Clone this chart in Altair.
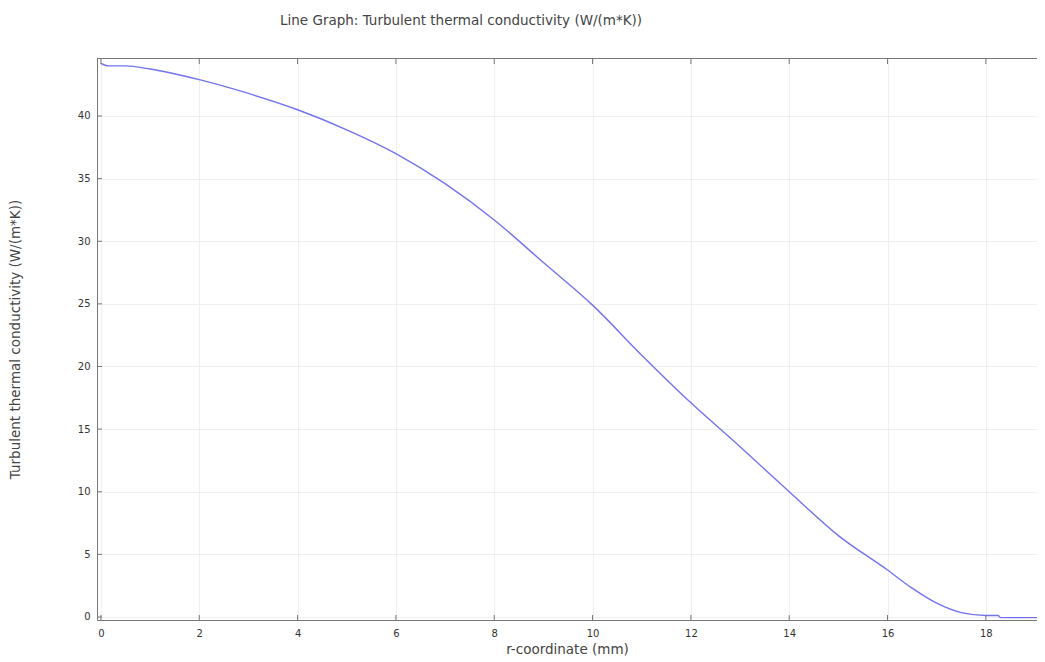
import altair as alt
import pandas as pd

r_mm = [0, 0.15, 0.5, 1, 2, 3, 4, 5, 6, 7, 8, 9, 10, 11, 12, 13, 14, 15, 16, 16.5, 17, 17.5, 18, 18.25, 18.3, 19.2]
k_turb = [44.2, 44.0, 44.0, 43.75, 42.9, 41.8, 40.5, 38.9, 37.0, 34.6, 31.7, 28.3, 24.9, 20.9, 17.1, 13.6,
          10.0, 6.5, 3.75, 2.3, 1.1, 0.35, 0.12, 0.12, -0.05, -0.05]
x_ticks = [0, 2, 4, 6, 8, 10, 12, 14, 16, 18]
y_ticks = [0, 5, 10, 15, 20, 25, 30, 35, 40]

W, H = 940, 562
df = pd.DataFrame({"r": r_mm, "k": k_turb})
xt = pd.DataFrame({"t": x_ticks})
yt = pd.DataFrame({"t": y_ticks})

FONT = "DejaVu Sans"
AX = "#777777"
TFS = 13.5
xs = alt.Scale(domain=[-0.08, 19.04], nice=False, zero=False)
ys = alt.Scale(domain=[-0.24, 44.63], nice=False, zero=False)

line = alt.Chart(df).mark_line(color="#7373f0", strokeWidth=1.4, clip=True,
                               interpolate="monotone").encode(
    x=alt.X("r:Q", scale=xs, title="r-coordinate (mm)",
            axis=alt.Axis(values=x_ticks, grid=True, gridColor="#efefef", ticks=False,
                          domainColor=AX, labelPadding=8, titlePadding=4,
                          labelFontSize=10, titleFontSize=TFS, labelColor="#333333",
                          titleColor="#444444", labelFont=FONT, titleFont=FONT,
                          titleFontWeight="normal")),
    y=alt.Y("k:Q", scale=ys, title="Turbulent thermal conductivity (W/(m*K))",
            axis=alt.Axis(values=y_ticks, grid=True, gridColor="#efefef", ticks=False,
                          domainColor=AX, labelPadding=7, titlePadding=55,
                          labelFontSize=10, titleFontSize=TFS, labelColor="#333333",
                          titleColor="#444444", labelFont=FONT, titleFont=FONT,
                          titleFontWeight="normal")),
)

bottom_ticks = alt.Chart(xt).mark_rule(color=AX).encode(
    x=alt.X("t:Q", scale=xs), y=alt.value(H), y2=alt.value(H - 5))
top_ticks = alt.Chart(xt).mark_rule(color=AX).encode(
    x=alt.X("t:Q", scale=xs), y=alt.value(0), y2=alt.value(6))
left_ticks = alt.Chart(yt).mark_rule(color=AX).encode(
    y=alt.Y("t:Q", scale=ys), x=alt.value(0), x2=alt.value(5))
top_border = alt.Chart(xt).mark_rule(color=AX, strokeWidth=1).encode(
    x=alt.value(0), x2=alt.value(W), y=alt.value(0.5))

chart = alt.layer(line, bottom_ticks, top_ticks, left_ticks, top_border).properties(
    width=W, height=H,
    autosize=alt.AutoSizeParams(type="none"),
    padding={"left": 89, "top": 50, "right": 0, "bottom": 44},
    title=alt.TitleParams("Line Graph: Turbulent thermal conductivity (W/(m*K))",
                          anchor="start", frame="group", dx=183, offset=30, fontSize=TFS,
                          font=FONT, fontWeight="normal", color="#444444"),
    background="white",
).configure_view(stroke=None)

chart.save("out.html", embed_options={"renderer": "svg", "actions": False})
